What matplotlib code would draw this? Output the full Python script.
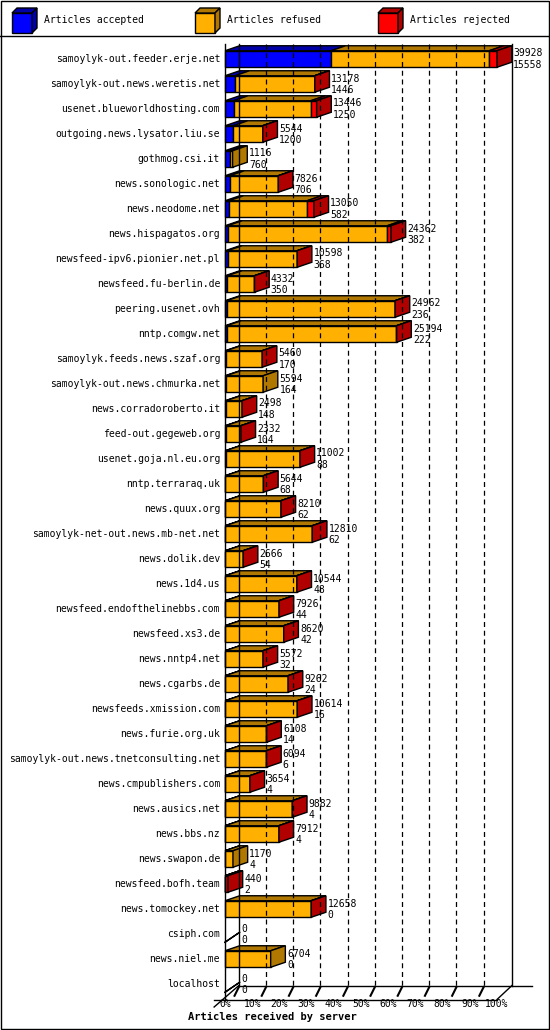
import matplotlib
matplotlib.use("Agg")
import matplotlib.pyplot as plt
from matplotlib.patches import Polygon, Rectangle

servers = ["samoylyk-out.feeder.erje.net","samoylyk-out.news.weretis.net","usenet.blueworldhosting.com",
 "outgoing.news.lysator.liu.se","gothmog.csi.it","news.sonologic.net","news.neodome.net","news.hispagatos.org",
 "newsfeed-ipv6.pionier.net.pl","newsfeed.fu-berlin.de","peering.usenet.ovh","nntp.comgw.net",
 "samoylyk.feeds.news.szaf.org","samoylyk-out.news.chmurka.net","news.corradoroberto.it","feed-out.gegeweb.org",
 "usenet.goja.nl.eu.org","nntp.terraraq.uk","news.quux.org","samoylyk-net-out.news.mb-net.net","news.dolik.dev",
 "news.1d4.us","newsfeed.endofthelinebbs.com","newsfeed.xs3.de","news.nntp4.net","news.cgarbs.de",
 "newsfeeds.xmission.com","news.furie.org.uk","samoylyk-out.news.tnetconsulting.net","news.cmpublishers.com",
 "news.ausics.net","news.bbs.nz","news.swapon.de","newsfeed.bofh.team","news.tomockey.net","csiph.com",
 "news.niel.me","localhost"]
offered = [39928,13178,13446,5544,1116,7826,13050,24362,10598,4332,24962,25194,5460,5594,2498,2332,11002,5644,
 8210,12810,2666,10544,7926,8620,5572,9262,10614,6108,6094,3654,9882,7912,1170,440,12658,0,6704,0]
accepted = [15558,1446,1250,1200,760,706,582,382,368,350,236,222,170,164,148,104,88,68,62,62,54,48,44,42,32,24,
 16,14,6,4,4,4,4,2,0,0,0,0]
rejected = [1150,30,850,20,0,20,1000,550,20,20,20,20,20,0,20,20,20,20,20,20,20,20,20,20,20,20,20,20,20,20,20,
 20,0,400,20,0,0,0]

W, H = 550, 1030
fig = plt.figure(figsize=(W/100, H/100), dpi=100)
pxx = 2.72  # px per percent
ax_l, ax_r = 225, 550
row0, rowsp = 59, 25.0
ytop_px = row0 - 0.6*rowsp
ybot_px = 999.5
n = len(servers)
ylo = -0.6
yhi = (ybot_px - row0)/rowsp
ax = fig.add_axes([ax_l/W, 1-ybot_px/H, (ax_r-ax_l)/W, (ybot_px-ytop_px)/H])
ax.set_xlim(0, (ax_r-ax_l)/pxx)
ax.set_ylim(yhi, ylo)
ax.axis("off")

mono = "DejaVu Sans Mono"
fs = 7
dx, dy = 5.4, 0.2
fdy = 14/rowsp
bh = 0.66
mx = max(offered)

# walls / grid
ax.plot([0, 0], [ylo, yhi], color="black", lw=1, clip_on=False)
ax.plot([5.1, 5.1], [ylo, yhi-fdy], color="black", lw=1, clip_on=False)
ax.plot([105.5, 105.5], [ylo, yhi-fdy], color="black", lw=1, clip_on=False)
for p in range(10, 100, 10):
    ax.plot([p+5.1, p+5.1], [ylo, yhi-fdy], color="black", lw=0.9, ls=(0, (4, 3)))
ax.plot([-4, 100], [yhi, yhi], color="black", lw=1, clip_on=False)
ax.plot([100, 105.5], [yhi, yhi-fdy], color="black", lw=1, clip_on=False)
ax.plot([5.1, 113], [yhi-fdy, yhi-fdy], color="black", lw=1, clip_on=False)
ax.plot([-4, 5.1], [yhi+0.3, yhi-fdy], color="black", lw=1, clip_on=False)
for p in range(0, 101, 10):
    ax.text(p, yhi+0.17, f"{p}%", fontsize=fs, family=mono, ha="center", va="center", clip_on=False)
    if p < 100:
        ax.plot([p+3.5, p+5.1], [yhi-0.15, yhi-0.5], color="black", lw=1.5)

front = {"a": "#0000ff", "f": "#ffb000", "r": "#ff0000"}
dark = {"a": "#0000a8", "f": "#b07800", "r": "#b00000"}

def poly(pts, fc):
    ax.add_patch(Polygon(pts, closed=True, fc=fc, ec="black", lw=1, clip_on=False))

for i in range(n):
    tot = offered[i]
    y0, y1 = i - bh/2, i + bh/2
    segs = [("a", accepted[i]), ("f", tot-accepted[i]-rejected[i]), ("r", rejected[i])]
    x = 0
    last = None
    for k, v in segs:
        if v <= 0:
            continue
        w = v/mx*100
        ax.add_patch(Rectangle((x, y0), w, bh, fc=front[k], ec="black", lw=1, clip_on=False))
        poly([(x, y0), (x+w, y0), (x+w+dx, y0-dy), (x+dx, y0-dy)], dark[k])
        x += w
        last = k
    if last:
        poly([(x, y0), (x+dx, y0-dy), (x+dx, y1-dy), (x, y1)], dark[last])
    else:
        ax.plot([0, dx, dx, 0], [y1, y1-dy*2, y1-dy*2, y1], color="black", lw=1, clip_on=False)
        x = 0
    ax.text(x+dx+0.6, i-0.22, str(tot), fontsize=fs, family=mono, va="center", clip_on=False)
    ax.text(x+dx+0.6, i+0.24, str(accepted[i]), fontsize=fs, family=mono, va="center", clip_on=False)
    ax.text(-1.8, i, servers[i], fontsize=fs, family=mono, ha="right", va="center", clip_on=False)

# legend + frame
fig.add_artist(Rectangle((1/W, 1/H), (W-2)/W, (H-2)/H, transform=fig.transFigure, fill=False, ec="black", lw=1))
fig.add_artist(plt.Line2D([0, 1], [1-36/H]*2, transform=fig.transFigure, color="black", lw=1))
for lx, k, lab in [(12, "a", "Articles accepted"), (195, "f", "Articles refused"), (378, "r", "Articles rejected")]:
    x0, ytop = lx, 8
    s, d = 20, 5
    def P(pts, fc):
        fig.add_artist(Polygon([(a/W, 1-b/H) for a, b in pts], closed=True, transform=fig.transFigure, fc=fc, ec="black", lw=1))
    P([(x0, ytop+d), (x0+s, ytop+d), (x0+s, ytop+d+s), (x0, ytop+d+s)], front[k])
    P([(x0, ytop+d), (x0+d, ytop), (x0+s+d, ytop), (x0+s, ytop+d)], dark[k])
    P([(x0+s, ytop+d), (x0+s+d, ytop), (x0+s+d, ytop+s), (x0+s, ytop+d+s)], dark[k])
    fig.text((x0+32)/W, 1-20/H, lab, fontsize=fs, family=mono, va="center")
fig.text(272/W, 1-1017/H, "Articles received by server", fontsize=7.5, family=mono, weight="bold", ha="center", va="center")
fig.savefig("out.png", dpi=100)
